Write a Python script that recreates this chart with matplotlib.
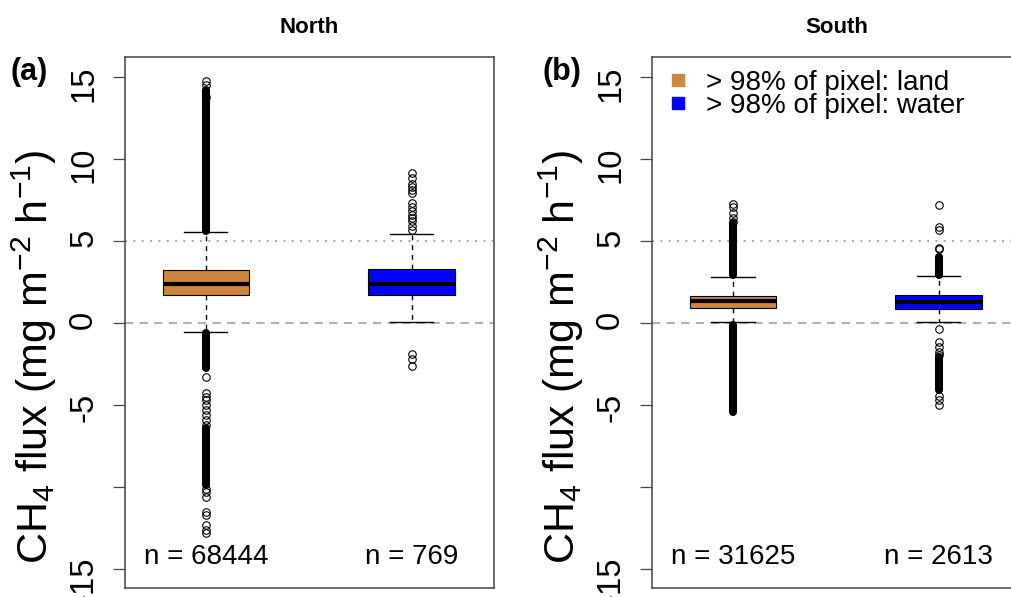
import numpy as np
import matplotlib
matplotlib.use("Agg")
import matplotlib.pyplot as plt

plt.rcParams['font.family'] = ['Liberation Sans', 'DejaVu Sans']
plt.rcParams['mathtext.fontset'] = 'custom'
plt.rcParams['mathtext.rm'] = 'Liberation Sans'
plt.rcParams['mathtext.it'] = 'Liberation Sans:italic'
plt.rcParams['mathtext.bf'] = 'Liberation Sans:bold'

regions = ["North", "South"]
panel_tags = ["(a)", "(b)"]
classes = ["> 98% of pixel: land", "> 98% of pixel: water"]
class_colors = ["#CD853F", "#0000FF"]

# per panel: [land, water]
north_n = [68444, 769]
south_n = [31625, 2613]
north_q1 = [1.71, 1.71]
north_med = [2.38, 2.38]
north_q3 = [3.23, 3.29]
north_whislo = [-0.55, 0.06]
north_whishi = [5.55, 5.43]
south_q1 = [0.91, 0.85]
south_med = [1.34, 1.28]
south_q3 = [1.65, 1.70]
south_whislo = [0.06, 0.06]
south_whishi = [2.80, 2.87]

# single outliers that can be told apart
north_land_fliers = [14.75, 14.5, 13.8, -3.3, -4.27, -4.5, -4.7, -5.0, -5.3,
                     -5.6, -5.9, -6.2, -10.1, -10.3, -10.6, -11.5, -11.7,
                     -12.3, -12.6, -12.8]
north_water_fliers = [9.17, 8.84, 8.5, 8.3, 8.1, 7.9, 7.3, 7.1, 6.8, 6.6, 6.4,
                      6.2, 5.9, 5.7, -1.9, -2.2, -2.6]
south_land_fliers = [7.26, 7.07, 6.7, 6.4, 6.16]
south_water_fliers = [7.2, 5.85, 5.7, 4.6, 4.5, -0.37, -1.16, -1.46, -1.77,
                      -1.95, -4.45, -4.7, -5.0]
# stretches where outliers overlap into a solid column (start, end)
north_land_dense = [(5.6, 14.2), (-0.62, -2.74), (-6.4, -9.9)]
north_water_dense = []
south_land_dense = [(2.9, 6.1), (-0.1, -5.4)]
south_water_dense = [(2.95, 4.0), (-2.07, -4.09)]

panels = [
    (north_n, north_q1, north_med, north_q3, north_whislo, north_whishi,
     [north_land_fliers, north_water_fliers], [north_land_dense, north_water_dense]),
    (south_n, south_q1, south_med, south_q3, south_whislo, south_whishi,
     [south_land_fliers, south_water_fliers], [south_land_dense, south_water_dense]),
]

fig = plt.figure(figsize=(10.12, 5.97), dpi=100)
ax_left = [0.1235, 0.6443]
axes = [fig.add_axes([x0, 0.0151, 0.3646, 0.8894]) for x0 in ax_left]

yticks = [-15, -10, -5, 0, 5, 10, 15]
ylabels = ['-15', '', '-5', '0', '5', '10', '15']

for ax, region, tag, (n, q1, med, q3, wlo, whi, fliers, dense) in zip(
        axes, regions, panel_tags, panels):
    ax.axhline(5, color='#aaaaaa', lw=1.5, linestyle=(0, (1, 3)), zorder=0.5)
    ax.axhline(0, color='#b0b0b0', lw=1.5, linestyle=(0, (4, 3)), zorder=0.5)

    stats = []
    for j in range(2):
        stats.append(dict(q1=q1[j], med=med[j], q3=q3[j], whislo=wlo[j],
                          whishi=whi[j], fliers=fliers[j]))
    bp = ax.bxp(stats, positions=[1, 2], widths=0.42, capwidths=0.21,
                patch_artist=True, showfliers=True,
                boxprops=dict(edgecolor='black', linewidth=0.8),
                medianprops=dict(color='black', linewidth=3.0, solid_capstyle='butt'),
                whiskerprops=dict(color='black', linewidth=1.0, linestyle=(0, (3.5, 3.5))),
                capprops=dict(color='black', linewidth=1.0),
                flierprops=dict(marker='o', markersize=5.4, markerfacecolor='none',
                                markeredgecolor='black', markeredgewidth=0.8))
    for patch, c in zip(bp['boxes'], class_colors):
        patch.set_facecolor(c)

    for j, runs in enumerate(dense):
        for lo, hi in runs:
            ax.plot([j + 1, j + 1], [lo, hi], color='black', lw=5.8,
                    solid_capstyle='round', zorder=3)

    for j in range(2):
        ax.text(j + 1, -14.7, "n = %d" % n[j], ha='center', va='baseline',
                fontsize=20)

    ax.set_xlim(0.607, 2.40)
    ax.set_ylim(-16.16, 16.22)
    ax.set_xticks([])
    ax.set_yticks(yticks)
    ax.set_yticklabels(ylabels)
    ax.tick_params(axis='y', direction='out', length=8.6, width=0.9,
                   color='#444444', labelsize=23.5, pad=10, labelrotation=90)
    for sp in ax.spines.values():
        sp.set_color('#444444')
        sp.set_linewidth(1.1)

    ax.text(-0.246, 0.435, r'CH$_4$ flux (mg m$^{-2}$ h$^{-1}$)',
            transform=ax.transAxes, rotation=90, ha='center', va='center',
            rotation_mode='anchor', fontsize=31)
    ax.text(0.5, 1.0452, region, transform=ax.transAxes, ha='center',
            va='baseline', fontsize=16, fontweight='bold')

fig.text(0.0099, 0.8660, panel_tags[0], fontsize=22, fontweight='bold',
         va='baseline', ha='left')
fig.text(0.5356, 0.8660, panel_tags[1], fontsize=22, fontweight='bold',
         va='baseline', ha='left')

# legend in the South panel
leg_ax = axes[1]
for k, (lab, c) in enumerate(zip(classes, class_colors)):
    yb = 0.9379 - k * 0.0434
    leg_ax.plot(0.0705, yb + 0.0188, marker='s', markersize=8.5, color=c,
                transform=leg_ax.transAxes, clip_on=False)
    leg_ax.text(0.1463, yb, lab, transform=leg_ax.transAxes, fontsize=20,
                va='baseline', ha='left')

fig.savefig("out.png", dpi=100)
